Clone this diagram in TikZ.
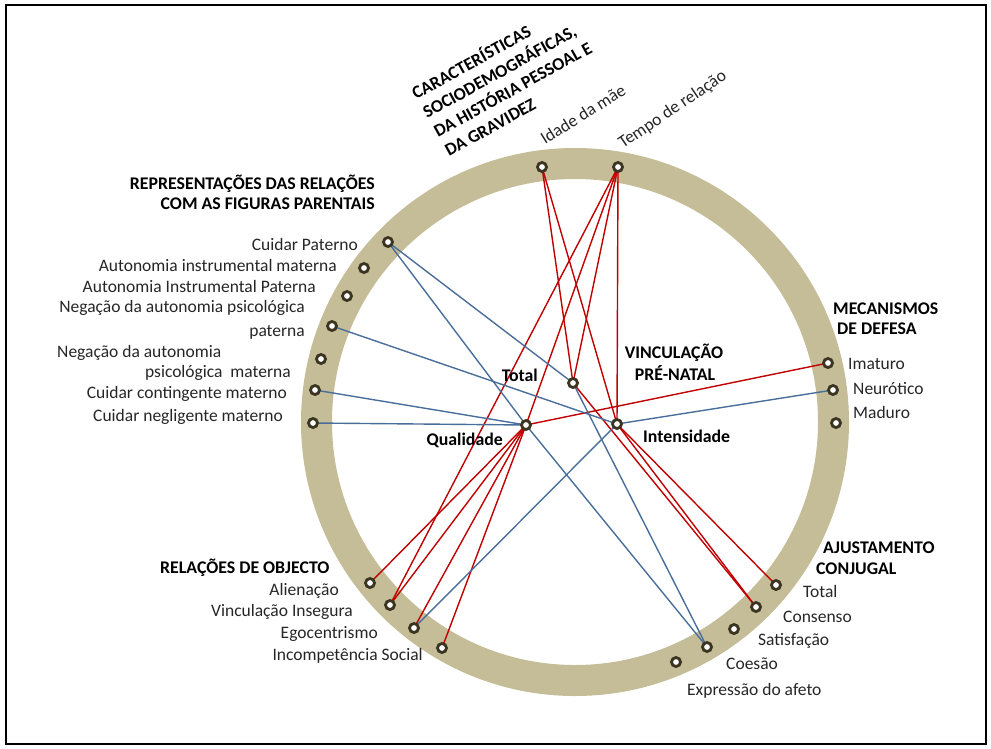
\documentclass[tikz,border=0pt]{standalone}
\usepackage{fontspec}
\setmainfont{Carlito}
\pgfdeclarelayer{bg}
\pgfsetlayers{bg,main}
\definecolor{ringc}{RGB}{196,189,151}
\definecolor{dotc}{RGB}{58,52,32}
\definecolor{redl}{RGB}{192,0,0}
\definecolor{bluel}{RGB}{74,110,154}
\tikzset{
  dot/.style={circle,draw=dotc,fill=white,line width=2.8pt,minimum size=9pt,inner sep=0pt},
  rl/.style={draw=redl,line width=1.4pt},
  bl/.style={draw=bluel,line width=1.4pt},
  lab/.style={inner sep=0pt,font=\fontsize{17.5}{21}\selectfont,text=black!85},
  head/.style={inner sep=0pt,font=\fontsize{17.8}{21}\selectfont\bfseries,text=black}
}
\begin{document}
\begin{tikzpicture}[x=1pt,y=-1pt]
\useasboundingbox (0,0) rectangle (991,748);
\draw[line width=2pt] (6,5) rectangle (986,744);
% ring
\begin{pgfonlayer}{bg}
\draw[ringc,line width=31pt] (575,422) circle[radius=258.5];
\end{pgfonlayer}
% dots
\node[dot] (idade) at (542,167) {};
\node[dot] (tempo) at (618,167) {};
\node[dot] (cp) at (388,242) {};
\node[dot] (aim) at (364,268) {};
\node[dot] (aip) at (347,296) {};
\node[dot] (np) at (332,326) {};
\node[dot] (nm) at (321,359) {};
\node[dot] (cc) at (315,390) {};
\node[dot] (cn) at (313,423) {};
\node[dot] (ima) at (828,363) {};
\node[dot] (neu) at (833,390) {};
\node[dot] (mad) at (836,423) {};
\node[dot] (ali) at (370,583) {};
\node[dot] (vi) at (390,605) {};
\node[dot] (ego) at (414,628) {};
\node[dot] (inc) at (442,648) {};
\node[dot] (taj) at (776,585) {};
\node[dot] (con) at (756,607) {};
\node[dot] (sat) at (734,629) {};
\node[dot] (coe) at (707,647) {};
\node[dot] (exp) at (676,662) {};
\node[dot] (totc) at (573,383) {};
\node[dot] (qual) at (526,425) {};
\node[dot] (inten) at (617,424) {};
% connectors
\begin{pgfonlayer}{bg}
\draw[rl] (idade.center) -- (totc.center);
\draw[rl] (idade.center) -- (inten.center);
\draw[rl] (tempo.center) -- (totc.center);
\draw[rl] (tempo.center) -- (inten.center);
\draw[rl] (tempo.center) -- (qual.center);
\draw[rl] (tempo.center) -- (vi.center);
\draw[rl] (ima.center) -- (qual.center);
\draw[rl] (inten.center) -- (taj.center);
\draw[rl] (inten.center) -- (con.center);
\draw[rl] (totc.center) -- (con.center);
\draw[rl] (qual.center) -- (ali.center);
\draw[rl] (qual.center) -- (vi.center);
\draw[rl] (qual.center) -- (ego.center);
\draw[rl] (qual.center) -- (inc.center);
\draw[bl] (cp.center) -- (totc.center);
\draw[bl] (cp.center) -- (qual.center);
\draw[bl] (np.center) -- (inten.center);
\draw[bl] (cc.center) -- (qual.center);
\draw[bl] (cn.center) -- (qual.center);
\draw[bl] (neu.center) -- (inten.center);
\draw[bl] (ego.center) -- (inten.center);
\draw[bl] (totc.center) -- (coe.center);
\draw[bl] (qual.center) -- (coe.center);
\end{pgfonlayer}
% title
\node[head,rotate=29,anchor=base west] (t1) at (416,100) {CARACTERÍSTICAS};
\node[head,rotate=29,anchor=base west] (t2) at (427,119) {SOCIODEMOGRÁFICAS,};
\node[head,rotate=29,anchor=base west] (t3) at (438,138) {DA HISTÓRIA PESSOAL E};
\node[head,rotate=29,anchor=base west] (t4) at (449,157) {DA GRAVIDEZ};
\node[lab,rotate=32,anchor=base west] (lidade) at (545,145) {Idade da mãe};
\node[lab,rotate=34,anchor=base west] (ltempo) at (623,149) {Tempo de relação};
% left
\node[head,anchor=base east] (h1a) at (375,189) {REPRESENTAÇÕES DAS RELAÇÕES};
\node[head,anchor=base east] (h1b) at (375,209) {COM AS FIGURAS PARENTAIS};
\node[lab,anchor=base east] (lcp) at (358,250) {Cuidar Paterno};
\node[lab,anchor=base east] (laim) at (337,271) {Autonomia instrumental materna};
\node[lab,anchor=base east] (laip) at (316,292) {Autonomia Instrumental Paterna};
\node[lab,anchor=base east] (lnp1) at (305,312) {Negação da autonomia psicológica};
\node[lab,anchor=base east] (lnp2) at (305,336) {paterna};
\node[lab,anchor=base west] (lnm1) at (57,357) {Negação da autonomia};
\node[lab,anchor=base east] (lnm2) at (291,377) {psicológica\ \ materna};
\node[lab,anchor=base east] (lcc) at (287,398) {Cuidar contingente materno};
\node[lab,anchor=base east] (lcn) at (283,421) {Cuidar negligente materno};
% right
\node[head,anchor=base west] (h2a) at (833,314) {MECANISMOS};
\node[head,anchor=base west] (h2b) at (837,334) {DE DEFESA};
\node[lab,anchor=base west] (lima) at (848,369) {Imaturo};
\node[lab,anchor=base west] (lneu) at (853,394) {Neurótico};
\node[lab,anchor=base west] (lmad) at (853,418) {Maduro};
% bottom left
\node[head,anchor=base west] (h3) at (160,573) {RELAÇÕES DE OBJECTO};
\node[lab,anchor=base east] (lali) at (339,595) {Alienação};
\node[lab,anchor=base east] (lvi) at (353,616) {Vinculação Insegura};
\node[lab,anchor=base east] (lego) at (378,638) {Egocentrismo};
\node[lab,anchor=base east] (linc) at (423,660) {Incompetência Social};
% bottom right
\node[head,anchor=base west] (h4a) at (823,553) {AJUSTAMENTO};
\node[head,anchor=base west] (h4b) at (816,574) {CONJUGAL};
\node[lab,anchor=base west] (ltaj) at (803,597) {Total};
\node[lab,anchor=base west] (lcon) at (783,622) {Consenso};
\node[lab,anchor=base west] (lsat) at (758,645) {Satisfação};
\node[lab,anchor=base west] (lcoe) at (726,669) {Coesão};
\node[lab,anchor=base west] (lexp) at (687,695) {Expressão do afeto};
% centre
\node[head,anchor=base] (h5a) at (674,358) {VINCULAÇÃO};
\node[head,anchor=base] (h5b) at (675,380) {PRÉ-NATAL};
\node[head,anchor=base east] (ltotc) at (538,381) {Total};
\node[head,anchor=base east] (lqual) at (503,445) {Qualidade};
\node[head,anchor=base west] (linten) at (643,442) {Intensidade};
\end{tikzpicture}
\end{document}
